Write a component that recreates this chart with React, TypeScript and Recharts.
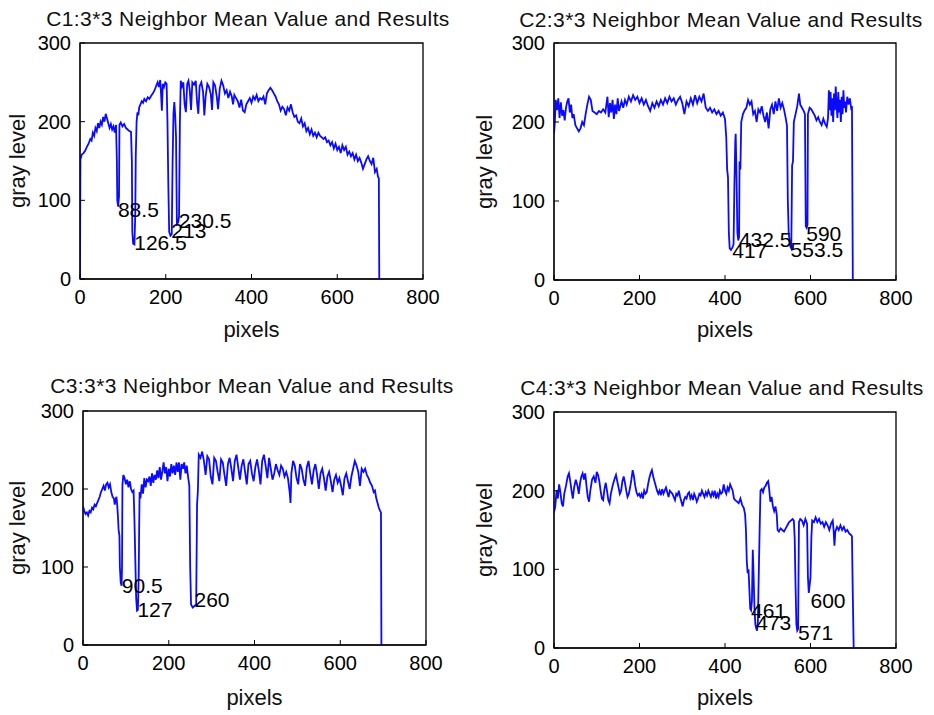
import React from 'react';
import { ComposedChart, Line, Scatter, XAxis, YAxis, ReferenceArea } from 'recharts';

const xTicks = [0, 200, 400, 600, 800];
const yTicks = [0, 100, 200, 300];

const titles = [
  'C1:3*3 Neighbor Mean Value and Results',
  'C2:3*3 Neighbor Mean Value and Results',
  'C3:3*3 Neighbor Mean Value and Results',
  'C4:3*3 Neighbor Mean Value and Results',
];

// [pixel, gray level]
const c1 = [
  [0, 0], [1, 152], [4, 158], [8, 160], [12, 163], [16, 168], [20, 172], [24, 178], [27, 176], [30, 186],
  [33, 182], [36, 192], [39, 188], [42, 198], [45, 192], [48, 200], [51, 196], [54, 206], [57, 200], [60, 210],
  [63, 204], [66, 198], [69, 192], [72, 197], [75, 190], [78, 194], [81, 186], [84, 196], [86, 150], [87, 100],
  [89, 92], [91, 105], [92, 196], [95, 199], [99, 194], [103, 197], [107, 192], [111, 190], [115, 188], [119, 187],
  [121, 150], [122, 60], [124, 45], [127, 44], [129, 85], [130, 155], [132, 200], [134, 212], [136, 208], [138, 218],
  [141, 222], [144, 226], [147, 224], [150, 229], [154, 226], [158, 231], [162, 229], [166, 233], [170, 236], [174, 240],
  [178, 246], [181, 250], [184, 244], [187, 253], [189, 236], [191, 214], [193, 248], [196, 244], [199, 250], [202, 248],
  [204, 200], [206, 120], [208, 60], [211, 55], [214, 57], [216, 150], [218, 210], [220, 225], [222, 208], [224, 180],
  [226, 70], [229, 72], [231, 80], [233, 200], [235, 252], [238, 245], [241, 250], [244, 222], [247, 212], [250, 248],
  [253, 252], [256, 240], [259, 215], [262, 250], [266, 247], [270, 252], [273, 225], [276, 210], [279, 245], [283, 250],
  [287, 238], [290, 208], [293, 232], [297, 248], [301, 244], [305, 235], [308, 215], [311, 250], [315, 246], [319, 232],
  [322, 216], [326, 242], [330, 252], [334, 246], [338, 236], [342, 240], [346, 230], [350, 238], [354, 232], [357, 222],
  [360, 234], [364, 230], [368, 226], [372, 218], [376, 228], [380, 214], [384, 212], [388, 222], [392, 226], [396, 230],
  [400, 224], [404, 232], [408, 228], [412, 234], [416, 226], [420, 230], [424, 228], [428, 232], [432, 222], [436, 236],
  [440, 240], [444, 243], [448, 240], [452, 236], [456, 232], [460, 226], [464, 222], [468, 214], [472, 219], [476, 216],
  [480, 208], [484, 218], [488, 214], [492, 222], [496, 212], [500, 206], [504, 208], [508, 200], [512, 198], [516, 204],
  [520, 194], [524, 198], [528, 188], [532, 192], [536, 184], [540, 190], [544, 182], [548, 186], [552, 180], [556, 186],
  [560, 182], [564, 180], [568, 178], [572, 180], [576, 174], [580, 176], [584, 170], [588, 174], [592, 166], [596, 172],
  [600, 164], [604, 168], [608, 160], [612, 170], [616, 164], [620, 168], [624, 158], [628, 162], [632, 156], [636, 160],
  [640, 152], [644, 158], [648, 150], [652, 154], [656, 148], [660, 140], [664, 146], [668, 152], [672, 156], [676, 150],
  [680, 146], [684, 154], [688, 136], [692, 140], [695, 130], [697, 128], [698, 0],
];

const c2 = [
  [0, 185], [2, 200], [4, 228], [7, 215], [10, 230], [13, 205], [16, 225], [19, 208], [22, 215], [25, 202],
  [28, 218], [31, 226], [34, 230], [37, 212], [40, 222], [43, 205], [46, 210], [50, 196], [54, 192], [58, 188],
  [62, 192], [66, 200], [70, 196], [74, 210], [78, 222], [82, 232], [86, 228], [90, 214], [95, 212], [100, 210],
  [105, 214], [110, 212], [115, 216], [120, 212], [125, 232], [128, 206], [131, 224], [134, 212], [137, 228], [140, 204],
  [143, 222], [146, 210], [149, 230], [152, 214], [155, 220], [158, 226], [162, 218], [166, 228], [170, 222], [175, 232],
  [180, 226], [185, 234], [190, 228], [195, 232], [200, 224], [205, 230], [210, 222], [215, 228], [220, 220], [225, 214],
  [230, 224], [235, 218], [240, 226], [245, 220], [250, 228], [255, 222], [260, 230], [265, 224], [270, 232], [275, 226],
  [280, 230], [285, 222], [290, 228], [295, 232], [300, 224], [305, 210], [310, 226], [315, 220], [320, 230], [325, 222],
  [330, 234], [335, 224], [340, 232], [345, 226], [350, 236], [355, 218], [360, 214], [365, 218], [370, 212], [375, 216],
  [380, 210], [385, 214], [390, 208], [395, 212], [400, 204], [403, 180], [405, 140], [407, 130], [409, 60], [411, 40],
  [414, 38], [418, 42], [420, 45], [422, 120], [424, 175], [425, 185], [427, 130], [429, 60], [431, 50], [433, 55],
  [434, 150], [436, 140], [438, 200], [442, 210], [446, 215], [450, 218], [454, 228], [458, 222], [462, 226], [466, 210],
  [470, 214], [474, 200], [478, 216], [482, 212], [486, 220], [490, 208], [494, 200], [498, 212], [502, 192], [506, 216],
  [510, 222], [514, 210], [518, 226], [522, 214], [526, 230], [530, 218], [534, 224], [538, 216], [542, 205], [545, 195],
  [547, 100], [549, 60], [551, 50], [553, 42], [555, 40], [557, 145], [559, 150], [561, 200], [565, 210], [569, 220],
  [573, 236], [576, 222], [580, 218], [584, 214], [587, 210], [589, 68], [591, 66], [593, 70], [594, 210], [598, 218],
  [602, 216], [606, 212], [610, 208], [614, 202], [618, 206], [622, 200], [626, 196], [630, 204], [634, 198], [638, 194],
  [641, 205], [643, 240], [645, 215], [647, 238], [649, 208], [651, 230], [653, 200], [655, 236], [657, 215], [659, 245],
  [661, 222], [663, 205], [665, 238], [667, 212], [669, 228], [671, 200], [673, 232], [675, 210], [677, 240], [679, 218],
  [681, 226], [683, 212], [686, 232], [689, 222], [692, 230], [695, 218], [697, 220], [699, 0],
];

const c3 = [
  [0, 178], [3, 172], [6, 168], [9, 170], [12, 166], [15, 172], [18, 170], [21, 176], [24, 174], [27, 180],
  [30, 178], [33, 182], [36, 186], [39, 190], [42, 196], [45, 200], [48, 204], [51, 198], [54, 206], [57, 208],
  [60, 202], [63, 206], [66, 196], [69, 190], [72, 188], [74, 180], [76, 186], [78, 190], [80, 178], [82, 160],
  [83, 148], [85, 140], [86, 100], [88, 80], [90, 76], [91, 100], [92, 205], [94, 218], [97, 214], [100, 206],
  [103, 212], [106, 202], [109, 210], [112, 200], [115, 196], [118, 198], [120, 160], [122, 110], [124, 60], [126, 44],
  [128, 45], [130, 90], [131, 150], [132, 196], [134, 188], [137, 206], [140, 194], [143, 214], [146, 202], [149, 212],
  [152, 210], [155, 216], [158, 204], [161, 220], [164, 208], [167, 218], [170, 212], [173, 224], [176, 214], [179, 228],
  [182, 212], [185, 222], [188, 234], [191, 220], [194, 228], [197, 210], [200, 226], [203, 216], [206, 232], [209, 220],
  [212, 230], [215, 218], [218, 234], [221, 222], [224, 234], [227, 212], [230, 232], [233, 226], [236, 234], [239, 220],
  [242, 230], [245, 216], [248, 204], [250, 100], [252, 52], [256, 48], [260, 50], [264, 52], [266, 180], [268, 198],
  [270, 244], [274, 240], [278, 248], [282, 236], [286, 218], [290, 242], [294, 238], [298, 216], [302, 206], [306, 240],
  [310, 236], [314, 222], [318, 210], [322, 238], [326, 234], [330, 218], [334, 204], [338, 232], [342, 240], [346, 226],
  [350, 210], [354, 236], [358, 244], [362, 228], [366, 212], [370, 230], [374, 238], [378, 222], [382, 206], [386, 232],
  [390, 236], [394, 220], [398, 210], [402, 228], [406, 238], [410, 224], [414, 206], [418, 236], [422, 244], [426, 230],
  [430, 214], [434, 240], [438, 226], [442, 212], [446, 220], [450, 232], [454, 224], [458, 218], [462, 230], [466, 226],
  [470, 216], [474, 222], [478, 214], [482, 196], [484, 182], [486, 220], [490, 236], [494, 230], [498, 214], [502, 206],
  [506, 232], [510, 226], [514, 212], [518, 204], [522, 228], [526, 236], [530, 220], [534, 206], [538, 224], [542, 232],
  [546, 218], [550, 200], [554, 220], [558, 226], [562, 214], [566, 198], [570, 216], [574, 222], [578, 210], [582, 196],
  [586, 212], [590, 218], [594, 208], [598, 214], [602, 204], [606, 192], [610, 214], [614, 220], [618, 210], [622, 200],
  [626, 216], [630, 226], [634, 236], [638, 230], [642, 222], [646, 204], [650, 226], [654, 222], [658, 226], [662, 218],
  [666, 214], [670, 208], [674, 204], [678, 196], [681, 198], [684, 188], [687, 182], [690, 176], [693, 172], [695, 170],
  [696, 0],
];

const c4 = [
  [0, 172], [3, 180], [6, 200], [9, 190], [12, 208], [15, 198], [18, 184], [21, 180], [24, 196], [28, 206],
  [32, 218], [35, 222], [38, 212], [41, 200], [44, 190], [47, 204], [51, 214], [55, 206], [58, 196], [61, 210],
  [64, 218], [67, 222], [70, 214], [73, 222], [76, 206], [79, 192], [82, 186], [85, 200], [89, 214], [93, 218],
  [97, 210], [100, 224], [103, 220], [106, 212], [109, 200], [112, 190], [115, 188], [118, 202], [121, 210], [124, 200],
  [127, 188], [130, 184], [133, 196], [137, 206], [141, 214], [145, 220], [148, 212], [151, 204], [154, 196], [157, 200],
  [160, 212], [163, 218], [166, 210], [169, 200], [172, 192], [175, 196], [178, 204], [181, 214], [184, 226], [187, 218],
  [190, 206], [193, 198], [196, 194], [199, 196], [202, 192], [205, 196], [208, 190], [211, 200], [214, 196], [217, 198],
  [220, 208], [223, 216], [226, 222], [229, 226], [232, 218], [235, 212], [238, 206], [241, 200], [244, 196], [247, 200],
  [250, 194], [253, 202], [256, 196], [259, 200], [262, 204], [265, 198], [268, 192], [271, 200], [274, 198], [277, 196],
  [280, 192], [283, 188], [286, 196], [289, 194], [292, 200], [295, 192], [298, 186], [301, 180], [304, 188], [307, 192],
  [310, 190], [313, 196], [316, 198], [319, 190], [322, 194], [325, 188], [328, 196], [331, 192], [334, 186], [337, 190],
  [340, 196], [343, 194], [346, 200], [349, 196], [352, 192], [355, 198], [358, 194], [361, 200], [364, 196], [367, 192],
  [370, 198], [373, 194], [376, 200], [379, 190], [382, 196], [385, 192], [388, 200], [391, 196], [394, 198], [397, 208],
  [400, 200], [403, 196], [406, 204], [409, 200], [412, 208], [415, 204], [418, 200], [421, 190], [424, 188], [428, 186],
  [432, 184], [436, 190], [440, 182], [444, 178], [447, 170], [449, 150], [451, 110], [453, 95], [455, 100], [457, 75],
  [459, 50], [461, 48], [463, 60], [465, 125], [467, 90], [469, 50], [471, 30], [473, 25], [475, 22], [477, 35],
  [479, 95], [481, 150], [483, 200], [486, 202], [489, 198], [492, 204], [495, 206], [498, 210], [501, 212], [503, 204],
  [506, 186], [509, 192], [512, 180], [515, 174], [518, 180], [521, 170], [523, 150], [526, 148], [530, 152], [534, 150],
  [538, 148], [542, 152], [546, 156], [550, 160], [554, 162], [558, 164], [561, 162], [563, 140], [565, 80], [567, 30],
  [569, 22], [571, 24], [573, 160], [576, 164], [580, 162], [584, 156], [588, 164], [592, 158], [594, 90], [596, 70],
  [598, 80], [600, 90], [602, 140], [604, 162], [608, 160], [612, 166], [616, 160], [620, 164], [624, 158], [628, 160],
  [632, 154], [636, 160], [640, 156], [644, 150], [648, 158], [652, 162], [654, 150], [656, 130], [658, 148], [662, 154],
  [666, 150], [670, 156], [674, 150], [678, 154], [682, 148], [686, 150], [690, 146], [694, 144], [697, 142], [699, 65],
  [701, 0],
];

// annotation text: [pixel, gray level, text]
const m1: [number, number, string][] = [[88.5, 88, '88.5'], [126.5, 47, '126.5'], [213, 62, '213'], [230.5, 75, '230.5']];
const m2: [number, number, string][] = [[417, 38, '417'], [432.5, 51, '432.5'], [553.5, 39, '553.5'], [590, 59, '590']];
const m3: [number, number, string][] = [[90.5, 77, '90.5'], [127, 45, '127'], [260, 58, '260']];
const m4: [number, number, string][] = [[461, 48, '461'], [473, 33, '473'], [571, 20, '571'], [600, 61, '600']];

const W = 467;
const H = 350;
const FONT = '"Liberation Sans", Arial, Helvetica, sans-serif';

// panel origin + plot box inside it (left, top, right, bottom) + text spots
const layout = [
  { left: 0, top: 0, plot: [80, 43, 423, 279], titleX: 248, titleY: 18, xLabelY: 330, yLabelX: 18 },
  { left: 467, top: 0, plot: [87, 43, 429, 280], titleX: 254, titleY: 19, xLabelY: 330, yLabelX: 18 },
  { left: 0, top: 365, plot: [83, 46, 426, 280], titleX: 252, titleY: 20, xLabelY: 333, yLabelX: 18 },
  { left: 467, top: 365, plot: [87, 47, 429, 283], titleX: 255, titleY: 22, xLabelY: 333, yLabelX: 18 },
];

const AnnotText = (props: any) => {
  const { cx, cy, payload } = props;
  return (
    <text x={cx} y={cy} dy="0.36em" textAnchor="start" fontSize={21} fill="#000" fontFamily={FONT}>
      {payload.label}
    </text>
  );
};

const Panel = ({ idx, series, marks }: { idx: number; series: number[][]; marks: [number, number, string][] }) => {
  const l = layout[idx];
  const [pl, pt, pr, pb] = l.plot;
  const data = series.map(([x, y]) => ({ x, y }));
  const notes = marks.map(([x, y, label]) => ({ x, y, label }));
  const axisH = 30;
  const center = (pl + pr) / 2;

  return (
    <div style={{ position: 'absolute', left: l.left, top: l.top, width: W, height: H }}>
      <div
        style={{
          position: 'absolute', left: l.titleX, top: l.titleY, transform: 'translate(-50%, -50%)',
          whiteSpace: 'nowrap', fontSize: 21, letterSpacing: 0.4, lineHeight: 1, color: '#111',
        }}
      >
        {titles[idx]}
      </div>
      <div
        style={{
          position: 'absolute', left: center, top: l.xLabelY, transform: 'translate(-50%, -50%)',
          whiteSpace: 'nowrap', fontSize: 22, lineHeight: 1, color: '#111',
        }}
      >
        pixels
      </div>
      <div
        style={{
          position: 'absolute', left: l.yLabelX, top: (pt + pb) / 2,
          transform: 'translate(-50%, -50%) rotate(-90deg)',
          whiteSpace: 'nowrap', fontSize: 22, lineHeight: 1, color: '#111',
        }}
      >
        gray level
      </div>
      <ComposedChart
        width={W}
        height={H}
        margin={{ top: pt, right: W - pr, bottom: H - pb - axisH, left: 0 }}
      >
        <XAxis
          xAxisId="b" dataKey="x" type="number" domain={[0, 800]} ticks={xTicks} allowDataOverflow
          height={axisH} stroke="#000" tickSize={-5} tickMargin={16}
          tick={{ fill: '#000', fontSize: 20 }}
        />
        <XAxis
          xAxisId="t" dataKey="x" orientation="top" type="number" domain={[0, 800]} ticks={xTicks} allowDataOverflow
          height={0} stroke="#000" tickSize={-5} tick={false}
        />
        <YAxis
          yAxisId="l" type="number" domain={[0, 300]} ticks={yTicks} allowDataOverflow
          width={pl} stroke="#000" tickSize={-5} tickMargin={14}
          tick={{ fill: '#000', fontSize: 20 }}
        />
        <YAxis
          yAxisId="r" orientation="right" type="number" domain={[0, 300]} ticks={yTicks} allowDataOverflow
          width={0} stroke="#000" tickSize={-5} tick={false}
        />
        <ReferenceArea
          xAxisId="b" yAxisId="l" x1={0} x2={800} y1={0} y2={300}
          fill="none" stroke="#000" strokeWidth={1.3}
        />
        {/* invisible twin so the top / right axes draw their inner ticks */}
        <Line
          xAxisId="t" yAxisId="r" data={data} dataKey="y" type="linear"
          stroke="none" dot={false} activeDot={false} isAnimationActive={false}
        />
        <Line
          xAxisId="b" yAxisId="l" data={data} dataKey="y" type="linear"
          stroke="#0a0aff" strokeWidth={1.8} dot={false} activeDot={false} isAnimationActive={false}
        />
        <Scatter
          xAxisId="b" yAxisId="l" data={notes} dataKey="y" shape={AnnotText} isAnimationActive={false}
        />
      </ComposedChart>
    </div>
  );
}

export default function App() {
  return (
    <div style={{ position: 'absolute', left: 0, top: 0, width: 934, height: 715, background: '#fff', fontFamily: FONT }}>
      <Panel idx={0} series={c1} marks={m1} />
      <Panel idx={1} series={c2} marks={m2} />
      <Panel idx={2} series={c3} marks={m3} />
      <Panel idx={3} series={c4} marks={m4} />
    </div>
  );
}
